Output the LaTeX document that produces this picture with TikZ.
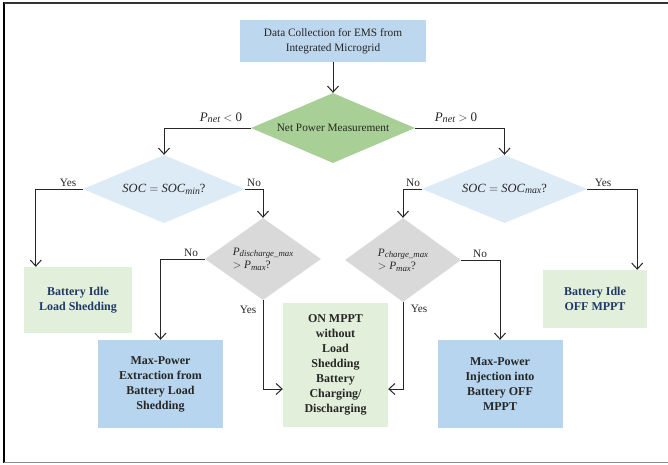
\documentclass[tikz,border=0pt]{standalone}
\usepackage{fontspec}
\setmainfont{Liberation Serif}
\usetikzlibrary{shapes.geometric,arrows.meta,calc}

\definecolor{topblue}{HTML}{BDD7EE}
\definecolor{boxblue}{HTML}{B7D5EE}
\definecolor{netgreen}{HTML}{A8CF96}
\definecolor{paleblue}{HTML}{DDEBF7}
\definecolor{palegray}{HTML}{D9D9D9}
\definecolor{palegreen}{HTML}{E2EFDA}
\definecolor{navy}{HTML}{1F3864}
\definecolor{ink}{HTML}{262626}

\newcommand\itx[1]{\textit{#1}}
% italic subscript at about four fifths of the running size
\newcommand\isub[1]{\raisebox{-0.3ex}{\fontsize{0.78\dimexpr\fontdimen6\font\relax}{0pt}\selectfont\itshape #1}}

\tikzset{
  basefont/.style={font=\fontsize{11.3}{14.5}\selectfont},
  mathfont/.style={font=\fontsize{12.5}{14.5}\selectfont},
  boldfont/.style={font=\fontsize{12}{15}\selectfont\bfseries},
  process/.style={rectangle, draw=none, inner sep=2pt, align=center},
  decision/.style={diamond, draw=none, inner sep=0pt, align=center, text=ink},
  flow/.style={draw=ink, line width=1pt, -{Straight Barb[length=6pt,width=11pt,line width=1pt]}},
  tag/.style={text=ink, basefont, inner sep=1pt, anchor=base},
}

\begin{document}
\begin{tikzpicture}[x=1pt,y=-1pt]
\useasboundingbox (0,0) rectangle (668,464);
\fill[white] (0,0) rectangle (668,464);

% frame
\draw[line width=2.5pt, black] (4,2) -- (4,463);
\draw[line width=1.8pt, black!80] (4,3) -- (668,3);
\draw[line width=1.5pt, black!45] (4,462.5) -- (668,462.5);

% start box
\node[process, fill=topblue, text=ink, basefont, minimum width=186pt, minimum height=42pt]
  (data) at (333,41) {Data Collection for EMS from\\Integrated Microgrid};

% decisions
\node[decision, basefont, fill=netgreen, aspect=2.34, minimum width=164pt, minimum height=70pt]
  (net) at (333,128) {Net Power Measurement};
\node[decision, mathfont, fill=paleblue, aspect=2.4, minimum width=162pt, minimum height=68pt]
  (socmin) at (164,189) {\itx{SOC} $=$ \itx{SOC}\isub{min}?};
\node[decision, mathfont, fill=paleblue, aspect=2.4, minimum width=165pt, minimum height=68pt]
  (socmax) at (504.5,189) {\itx{SOC} $=$ \itx{SOC}\isub{max}?};
\node[decision, basefont, fill=palegray, aspect=1.41, minimum width=116pt, minimum height=82pt, align=left]
  (pdis) at (263,259) {\itx{P}\isub{discharge\_max}\\[-1pt]$>$ \itx{P}\isub{max}?};
\node[decision, basefont, fill=palegray, aspect=1.38, minimum width=116pt, minimum height=84pt, align=left]
  (pch) at (403,260) {\itx{P}\isub{charge\_max}\\[-1pt]$>$ \itx{P}\isub{max}?};

% outcome boxes
\node[process, fill=palegreen, text=navy, boldfont, minimum width=108pt, minimum height=66pt]
  (idlels) at (78,300) {Battery Idle\\Load Shedding};
\node[process, fill=palegreen, text=navy, boldfont, minimum width=104pt, minimum height=58pt]
  (idleoff) at (595,299) {Battery Idle\\OFF MPPT};
\node[process, fill=boxblue, text=ink, boldfont, minimum width=125pt, minimum height=88pt]
  (extract) at (160.5,384) {Max-Power\\Extraction from\\Battery Load\\Shedding};
\node[process, fill=boxblue, text=ink, boldfont, minimum width=125pt, minimum height=88pt]
  (inject) at (500,384) {Max-Power\\Injection into\\Battery OFF\\MPPT};
\node[process, fill=palegreen, text=ink, boldfont, minimum width=105pt, minimum height=124pt]
  (onmppt) at (335.5,365) {ON MPPT\\without\\Load\\Shedding\\Battery\\Charging/\\Discharging};

% connectors
\draw[flow] (data) -- (net);
\draw[flow] (net.west) -| (socmin.north);
\draw[flow] (net.east) -| (socmax.north);
\draw[flow] (socmin.west) -| ($(idlels.north west)+(12,0)$);
\draw[flow] (socmin.east) -| (pdis.north);
\draw[flow] (socmax.west) -| (pch.north);
\draw[flow] (socmax.east) -| ($(idleoff.north east)+(-10,0)$);
\draw[flow] (pdis.west) -| (extract.north);
\draw[flow] (pch.east) -| (inject.north);
\draw[flow] (pdis.south) |- ($(onmppt.west)+(0,24)$);
\draw[flow] (pch.south) |- ($(onmppt.east)+(0,24)$);

% branch labels
\node[tag, font=\fontsize{13}{15}\selectfont] (lneg) at (221,121) {\itx{P}\isub{net} $<$ 0};
\node[tag, font=\fontsize{13}{15}\selectfont] (lpos) at (456,121) {\itx{P}\isub{net} $>$ 0};
\node[tag] (y1) at (68,186) {Yes};
\node[tag] (n1) at (254,186) {No};
\node[tag] (n2) at (413,186) {No};
\node[tag] (y2) at (603,186) {Yes};
\node[tag] (n3) at (191,256) {No};
\node[tag] (y3) at (248,313) {Yes};
\node[tag] (n4) at (480,257) {No};
\node[tag] (y4) at (419,312) {Yes};
\end{tikzpicture}
\end{document}
